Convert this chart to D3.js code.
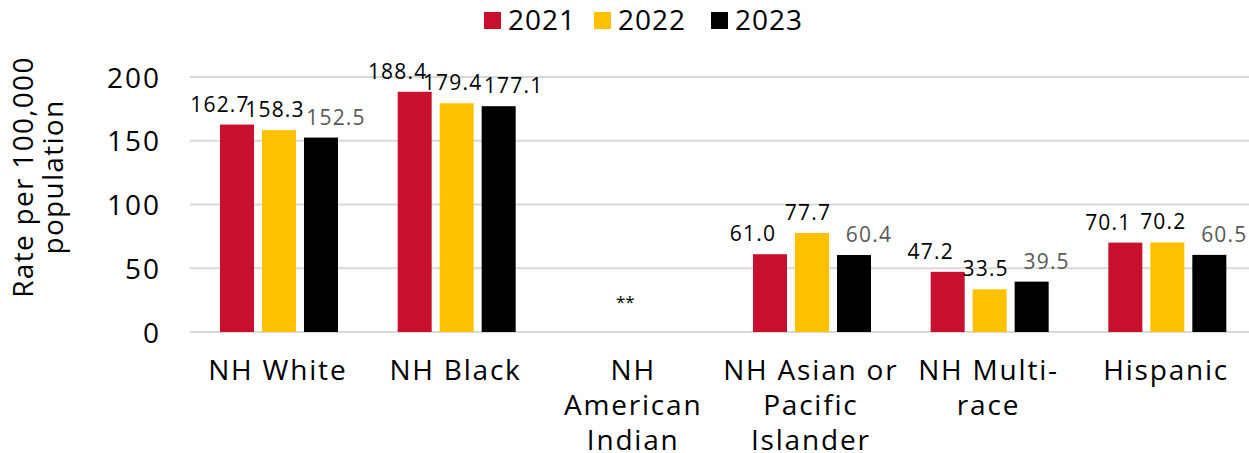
<!DOCTYPE html>
<html>
<head>
<meta charset="utf-8">
<script src="https://cdn.jsdelivr.net/npm/d3@7"></script>
<style>
  html, body { margin: 0; padding: 0; background: #fff; }
  svg { display: block; font-family: "Open Sans", "Noto Sans", sans-serif; }
</style>
</head>
<body>
<svg id="chart" width="1249" height="453"></svg>
<script>
// ---- data ----
const categories = [
  ["NH White"],
  ["NH Black"],
  ["NH", "American", "Indian"],
  ["NH Asian or", "Pacific", "Islander"],
  ["NH Multi-", "race"],
  ["Hispanic"]
];
const seriesNames = ["2021", "2022", "2023"];
const values2021 = [162.7, 188.4, null, 61.0, 47.2, 70.1];
const values2022 = [158.3, 179.4, null, 77.7, 33.5, 70.2];
const values2023 = [152.5, 177.1, null, 60.4, 39.5, 60.5];
const suppressedNote = "**";
const yTicks = [0, 50, 100, 150, 200];
const yTitle = ["Rate per 100,000", "population"];

// ---- styling ----
const colors = ["#C8102E", "#FFC000", "#000000"];
const labelDx = [-17, -4, 15];
const svg = d3.select("#chart");

const seriesValues = [values2021, values2022, values2023];
const catKeys = categories.map(c => c.join(" "));

const x0 = d3.scaleBand().domain(catKeys).range([190, 1256]).padding(0);
const x1 = d3.scaleBand().domain(seriesNames).range([30, 148]).paddingInner(0.19).paddingOuter(0);
const y = d3.scaleLinear().domain([0, 200]).range([332, 77]);

// gridlines
svg.append("g").selectAll("line").data(yTicks).join("line")
  .attr("x1", 190).attr("x2", 1256)
  .attr("y1", d => y(d)).attr("y2", d => y(d))
  .attr("stroke", "#d9d9d9").attr("stroke-width", 2);

// y axis labels
const yAxis = d3.axisLeft(y).tickValues(yTicks).tickSize(0).tickPadding(0);
const yg = svg.append("g").attr("transform", "translate(161,0)").call(yAxis);
yg.select(".domain").remove();
yg.selectAll("text").attr("font-size", 28).attr("fill", "#000")
  .attr("font-family", "'Open Sans', sans-serif").attr("letter-spacing", 2)
  .attr("dy", "0.36em");

// y title
const yt = svg.append("text")
  .attr("transform", "translate(0,177) rotate(-90)")
  .attr("text-anchor", "middle").attr("font-size", 28).attr("letter-spacing", 1.3)
  .attr("fill", "#000");
yt.selectAll("tspan").data(yTitle).join("tspan")
  .attr("x", 0).attr("y", (d, i) => 33 + i * 30).text(d => d);

// bars
const barData = [];
catKeys.forEach((c, ci) => {
  seriesNames.forEach((s, si) => {
    barData.push({ cat: c, ci, series: s, si, value: seriesValues[si][ci] });
  });
});

const bars = barData.filter(d => d.value != null);
svg.append("g").selectAll("rect").data(bars).join("rect")
  .attr("x", d => x0(d.cat) + x1(d.series))
  .attr("width", x1.bandwidth())
  .attr("y", d => y(d.value))
  .attr("height", d => y(0) - y(d.value))
  .attr("fill", d => colors[d.si]);

// data labels
svg.append("g").selectAll("text").data(bars).join("text")
  .attr("x", d => x0(d.cat) + x1(d.series) + x1.bandwidth() / 2 + labelDx[d.si])
  .attr("y", d => y(d.value) - 13)
  .attr("text-anchor", "middle")
  .attr("font-size", 21)
  .attr("letter-spacing", 1.2)
  .attr("fill", d => (d.si === 2 && d.ci !== 1) ? "#595959" : "#000")
  .text(d => d.value.toFixed(1));

// suppressed note
catKeys.forEach((c, ci) => {
  if (seriesValues.every(v => v[ci] == null)) {
    svg.append("text")
      .attr("x", x0(c) + x1(seriesNames[1]) + x1.bandwidth() / 2 - 9)
      .attr("y", y(0) - 24)
      .attr("text-anchor", "middle").attr("font-size", 17).attr("fill", "#000")
      .text(suppressedNote);
  }
});

// category labels
const xg = svg.append("g");
categories.forEach((lines, ci) => {
  const t = xg.append("text")
    .attr("text-anchor", "middle").attr("font-size", 28).attr("letter-spacing", 1.8)
    .attr("fill", "#000");
  t.selectAll("tspan").data(lines).join("tspan")
    .attr("x", x0(catKeys[ci]) + x0.bandwidth() / 2 - 1)
    .attr("y", (d, i) => 380 + i * 35)
    .text(d => d);
});

// legend
const legendX = [484, 594, 711];
const lg = svg.append("g");
seriesNames.forEach((s, i) => {
  lg.append("rect").attr("x", legendX[i]).attr("y", 12).attr("width", 17).attr("height", 17)
    .attr("fill", colors[i]);
  lg.append("text").attr("x", legendX[i] + 24).attr("y", 30)
    .attr("font-size", 28).attr("letter-spacing", 1).attr("fill", "#000").text(s);
});
</script>
</body>
</html>
